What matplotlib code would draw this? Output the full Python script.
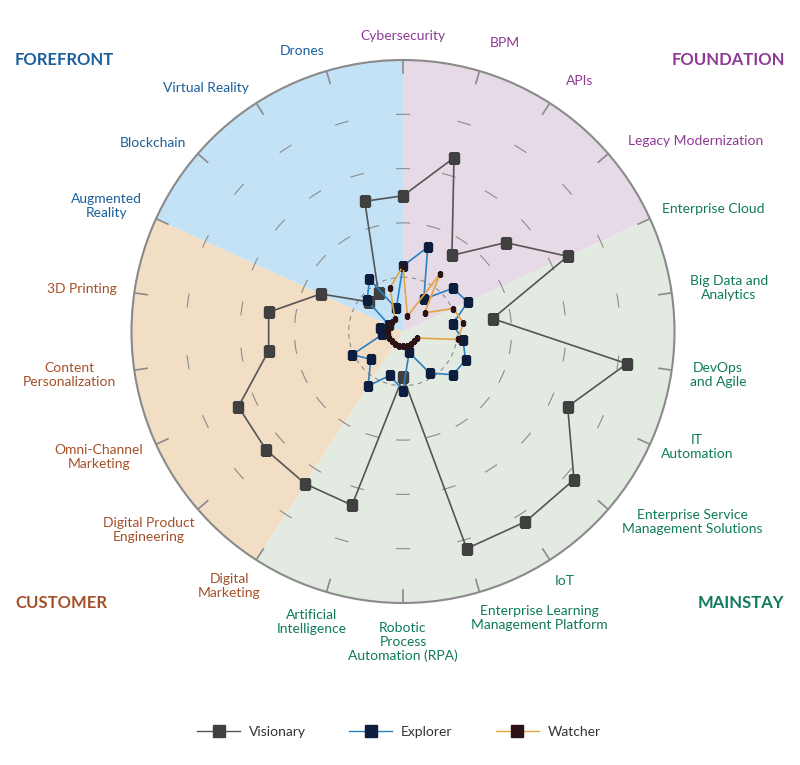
import numpy as np
import matplotlib
matplotlib.use("Agg")
import matplotlib.pyplot as plt
from matplotlib.lines import Line2D

# ---------------- data ----------------
categories = [
    "Cybersecurity", "BPM", "APIs", "Legacy Modernization", "Enterprise Cloud",
    "Big Data and\nAnalytics", "DevOps\nand Agile", "IT\nAutomation",
    "Enterprise Service\nManagement Solutions", "IoT",
    "Enterprise Learning\nManagement Platform", "Robotic\nProcess\nAutomation (RPA)",
    "Artificial\nIntelligence", "Digital\nMarketing", "Digital Product\nEngineering",
    "Omni-Channel\nMarketing", "Content\nPersonalization", "3D Printing",
    "Augmented\nReality", "Blockchain", "Virtual Reality", "Drones",
]
group_names = ["FOUNDATION", "MAINSTAY", "CUSTOMER", "FOREFRONT"]
group_sizes = [4, 9, 5, 4]

visionary = [3, 4, 2, 3, 4, 2, 5, 4, 5, 5, 5, 1, 4, 4, 4, 4, 3, 3, 2, 1, 1, 3]
explorer = [1.45, 1.94, 0.85, 1.46, 1.57, 1.11, 1.34, 1.52, 1.46, 1.09, 0.48, 1.31,
            1.01, 1.43, 0.94, 1.23, 0.46, 0.51, 0.33, 1.05, 1.37, 0.53]
watcher = [1.45, 0.35, 1.52, 0.63, 1.22, 1.35, 1.23, 0.35, 0.33, 0.33, 0.33, 0.33,
           0.33, 0.33, 0.33, 0.33, 0.33, 0.33, 0.33, 0.33, 0.33, 1.01]
series_names = ["Visionary", "Explorer", "Watcher"]

# ---------------- style ----------------
plt.rcParams["font.family"] = ["Lato", "DejaVu Sans"]
DPI = 100
W, H = 800, 765
RMAX = 6.0
sector_colors = ["#e6dae6", "#e2eae2", "#f2ddc5", "#c4e2f5"]
group_text_colors = ["#8e3a94", "#0f7a5c", "#a4502a", "#1b5e9b"]
line_colors = ["#555555", "#2a80c4", "#e3a444"]
marker_colors = ["#404040", "#0c1d3e", "#2b1214"]
marker_sizes = [7.2, 5.2, 2.6]

fig = plt.figure(figsize=(W / DPI, H / DPI), dpi=DPI)
cx, cy, R = 403.0, 331.5, 271.5
ax = fig.add_axes([(cx - R) / W, (H - cy - R) / H, 2 * R / W, 2 * R / H], projection="polar")
ax.set_theta_zero_location("N")
ax.set_theta_direction(-1)
ax.set_ylim(0, RMAX)
ax.set_xticks([])
ax.set_yticks([])
ax.grid(False)
ax.spines["polar"].set_color("#8a8a8a")
ax.spines["polar"].set_linewidth(1.5)

n = len(categories)
step = 2 * np.pi / n
theta = np.arange(n) * step

# background sectors
start = 0
for gi, size in enumerate(group_sizes):
    a0 = start * step
    width = size * step
    ax.bar(a0 + width / 2, RMAX, width=width, bottom=0, color=sector_colors[gi],
           edgecolor="none", zorder=0)
    start += size

# grid: inner dashed circle, outer short dashes on each axis
tt = np.linspace(0, 2 * np.pi, 500)
ax.plot(tt, np.full_like(tt, RMAX / 5), color="#8c8c8c", lw=0.8, ls=(0, (4, 4)), zorder=1)
px_per_unit = R / RMAX
for ring in [2 * RMAX / 5, 3 * RMAX / 5, 4 * RMAX / 5]:
    half = 6.5 / (ring * px_per_unit)
    for t in theta:
        a = np.linspace(t - half, t + half, 10)
        ax.plot(a, np.full_like(a, ring), color="#8c8c8c", lw=0.8, zorder=1)
# outer edge ticks
for t in theta:
    ax.plot([t, t], [RMAX - 13 / px_per_unit, RMAX], color="#8a8a8a", lw=1.2, zorder=1)

# series
th_closed = np.append(theta, theta[0])
draw_order = [0, 2, 1]
data = [visionary, explorer, watcher]
for i in draw_order:
    vals = np.append(data[i], data[i][0])
    ax.plot(th_closed, vals, color=line_colors[i], lw=1.2, zorder=3 + i)
    ax.plot(theta, data[i], ls="none", marker="s", ms=marker_sizes[i],
            mfc=marker_colors[i], mec=marker_colors[i], zorder=3.5 + i)

# category labels
label_colors = []
for gi, size in enumerate(group_sizes):
    label_colors += [group_text_colors[gi]] * size
nudges = {"BPM": (16, -4), "APIs": (12, -1), "Legacy Modernization": (22, 3),
          "Drones": (-13, 4), "Virtual Reality": (-17, 6), "Blockchain": (-6, 5),
          "Enterprise Service\nManagement Solutions": (17, -8),
          "Enterprise Learning\nManagement Platform": (35, -4),
          "IT\nAutomation": (-3, -10)}
texts = []
for k, lab in enumerate(categories):
    t = ax.annotate(lab, xy=(theta[k], RMAX), xytext=(0, 0), textcoords="offset points",
                    ha="center", va="center", multialignment="center",
                    fontsize=10, color=label_colors[k], zorder=10, annotation_clip=False)
    texts.append(t)

fig.canvas.draw()
renderer = fig.canvas.get_renderer()
pad = 18.5
for k, t in enumerate(texts):
    bb = t.get_window_extent(renderer)
    w, h = bb.width, bb.height
    s, c = np.sin(theta[k]), np.cos(theta[k])
    ox = s * pad + s * w / 2
    oy = c * pad + c * h / 2
    dx, dy = nudges.get(categories[k], (0, 0))
    ox += dx
    oy -= dy
    t.xyann = (ox * 72 / DPI, oy * 72 / DPI)

# group titles
title_pos = [(728, 60), (741, 603), (61, 603), (64, 60)]
for gi, name in enumerate(group_names):
    x, y = title_pos[gi]
    fig.text(x / W, 1 - y / H, name, ha="center", va="center", fontsize=12,
             fontweight="bold", color=group_text_colors[gi])

# legend
handles = [Line2D([], [], color=line_colors[i], lw=1.0, marker="s", ms=8,
                  mfc=marker_colors[i], mec=marker_colors[i]) for i in range(3)]
fig.legend(handles, series_names, loc="center", bbox_to_anchor=(399 / W, 1 - 732 / H),
           ncol=3, frameon=False, fontsize=10, handlelength=3.1, handletextpad=0.65,
           columnspacing=3.1, labelcolor="#333333")

fig.savefig("out.png", dpi=DPI, facecolor="white")
